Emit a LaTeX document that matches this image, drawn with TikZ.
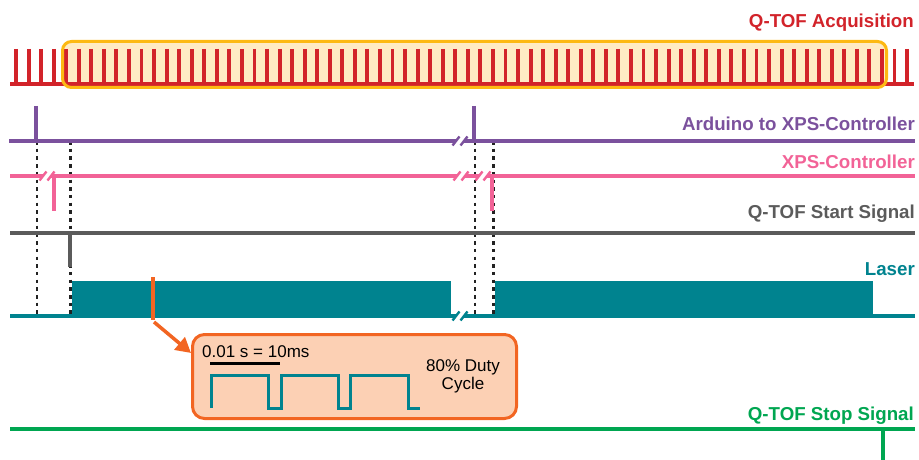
\documentclass[tikz,border=0pt]{standalone}
\usepackage{fontspec}
\setmainfont{Liberation Sans}
\usetikzlibrary{arrows.meta}
\definecolor{cRed}{HTML}{D2232A}
\definecolor{cBox}{HTML}{FDB913}
\definecolor{cBoxFill}{HTML}{FFEBC4}
\definecolor{cPurple}{HTML}{7B519D}
\definecolor{cPink}{HTML}{F26397}
\definecolor{cGray}{HTML}{5B5B5B}
\definecolor{cTeal}{HTML}{00838F}
\definecolor{cGreen}{HTML}{00A651}
\definecolor{cOrange}{HTML}{F26522}
\definecolor{cPeach}{HTML}{FCD0B4}
\definecolor{cDot}{HTML}{222222}
\newcommand\brkmark[3]{%
  \fill[white] (#1-4,#2-3) rectangle (#1+4,#2+3);
  \draw[#3, line width=2.4] (#1-7.5,#2+4.5) -- (#1-0.5,#2-4.5);
  \draw[#3, line width=2.4] (#1+0.5,#2+4.5) -- (#1+7.5,#2-4.5);
}
\tikzset{
  lbl/.style={font=\fontsize{18.7}{22}\selectfont\bfseries, anchor=base east, inner sep=0pt},
  sig/.style={line width=4},
  pulse/.style={line width=4},
  dotline/.style={cDot, line width=2.2, dash pattern=on 3.5pt off 4.2pt},
  small/.style={font=\fontsize{17}{20}\selectfont, inner sep=0pt}
}
\begin{document}
\begin{tikzpicture}[x=1pt,y=-1pt]
\useasboundingbox (0,0) rectangle (919,460);

% Q-TOF acquisition
\fill[cBoxFill, rounded corners=9] (62.5,41.5) rectangle (886.5,87.5);
\draw[cRed, sig] (10,84) -- (914,84);
\foreach \i in {0,...,71} \draw[cRed, line width=3.9] ({16+\i*12.55},49) -- ({16+\i*12.55},84);
\draw[cBox, line width=3, rounded corners=9] (62.5,41.5) rectangle (886.5,87.5);
\node[lbl, text=cRed] (acq) at (914,28) {Q-TOF Acquisition};

% dotted guides
\draw[dotline] (37,141) -- (37,316);
\draw[dotline] (70.5,141) -- (70.5,316);
\draw[dotline] (475,141) -- (475,316);
\draw[dotline] (493.5,141) -- (493.5,316);

% Arduino to XPS-Controller
\draw[cPurple, sig] (9,141) -- (915,141);
\draw[cPurple, pulse] (36,106) -- (36,143);
\draw[cPurple, pulse] (473.5,106) -- (473.5,143);
\brkmark{460}{141}{cPurple}
\node[lbl, text=cPurple] (ard) at (915,131) {Arduino to XPS-Controller};

% XPS-Controller
\draw[cPink, sig] (10,176) -- (915,176);
\draw[cPink, pulse] (54,174) -- (54,211);
\draw[cPink, pulse] (492,174) -- (492,211);
\brkmark{47}{176}{cPink}
\brkmark{461}{176}{cPink}
\brkmark{483}{176}{cPink}
\node[lbl, text=cPink] (xps) at (915,168) {XPS-Controller};

% Q-TOF Start Signal
\draw[cGray, sig] (10,233) -- (915,233);
\draw[cGray, pulse] (69.5,231) -- (69.5,267);
\node[lbl, text=cGray] (start) at (915,218) {Q-TOF Start Signal};

% Laser
\draw[cTeal, sig] (10,316) -- (915,316);
\fill[cTeal] (72,281) rectangle (451,318);
\fill[cTeal] (495,281) rectangle (873,318);
\brkmark{460}{316}{cTeal}
\node[lbl, text=cTeal] (laser) at (915,275) {Laser};

% marker and inset
\draw[cOrange, line width=3.5] (153,277) -- (153,320) coordinate (mk);
\node[draw=cOrange, fill=cPeach, line width=3, rounded corners=12, minimum width=324pt, minimum height=84pt, inner sep=0pt, anchor=north west] (inset) at (191,333) {};
\coordinate (tip) at (191,353);
\draw[cOrange, line width=3.5, -{Triangle[length=15pt,width=16pt]}] ([shift={(1,2)}]mk) -- (tip);
\node[small, anchor=base west] (scale) at (202,357) {0.01 s = 10ms};
\draw[black, line width=3] (210,363.5) -- (280,363.5);
\draw[cTeal, line width=3] (211,408) -- (211,375) -- (268,375) -- (268,408) -- (281,408) -- (281,375) -- (338,375) -- (338,408) -- (350,408) -- (350,375) -- (408,375) -- (408,408) -- (420,408);
\node[small, anchor=base] (duty1) at (463,371.7) {80\% Duty};
\node[small, anchor=base] (duty2) at (463,389.3) {Cycle};

% Q-TOF Stop Signal
\draw[cGreen, sig] (10,429) -- (915,429);
\draw[cGreen, pulse] (883,427) -- (883,460);
\node[lbl, text=cGreen] (stop) at (914,420) {Q-TOF Stop Signal};
\end{tikzpicture}
\end{document}
